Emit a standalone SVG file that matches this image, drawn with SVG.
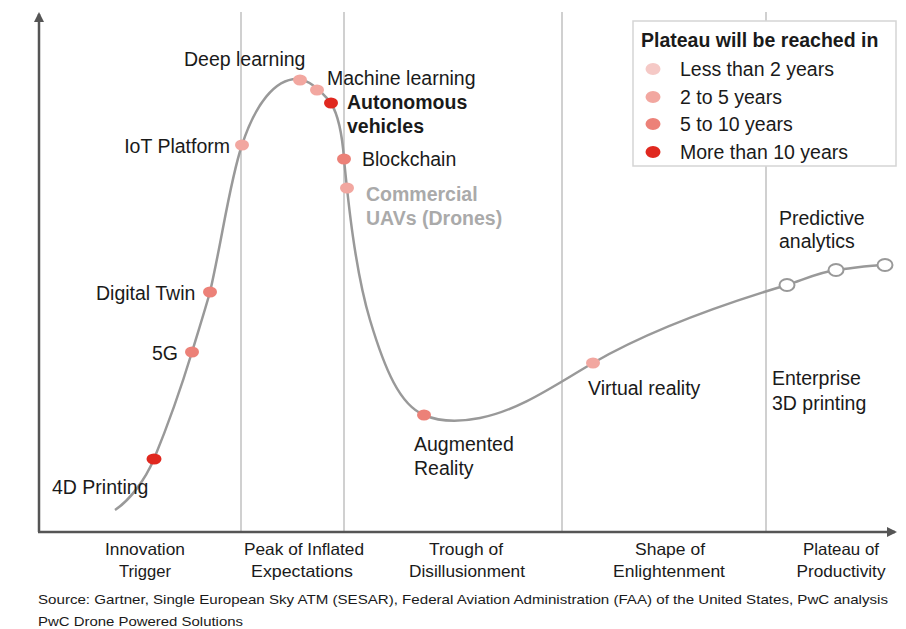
<svg xmlns="http://www.w3.org/2000/svg" width="906" height="629" viewBox="0 0 906 629">
<defs>
<style>
text{font-family:"Liberation Sans",Arial,sans-serif;fill:#1a1a1a;}
.lbl{font-size:19.5px;}
.b{font-weight:bold;}
.ax{font-family:"Liberation Sans Narrow","Liberation Sans",Arial,sans-serif;font-size:16.5px;text-anchor:middle;}
.src{font-family:"Liberation Sans Narrow","Liberation Sans",Arial,sans-serif;font-size:13px;}
.div{stroke:#d0d0d0;stroke-width:2;fill:none;}
.axis{stroke:#555;stroke-width:2.5;fill:none;}
.curve{stroke:#999;stroke-width:2.5;fill:none;}
.c1{fill:#f5c9c6;}
.c2{fill:#f2a7a0;}
.c3{fill:#ec8178;}
.c4{fill:#e0281f;}
.open{fill:#fff;stroke:#999;stroke-width:2;}
</style>
<marker id="arr" markerWidth="10" markerHeight="10" refX="8" refY="5" orient="auto" markerUnits="userSpaceOnUse">
<path d="M0,0 L10,5 L0,10 Z" fill="#555"/>
</marker>
</defs>
<rect width="906" height="629" fill="#fff"/>
<g id="dividers">
<line class="div" x1="241" y1="12" x2="241" y2="531"/>
<line class="div" x1="344" y1="12" x2="344" y2="531"/>
<line class="div" x1="562" y1="12" x2="562" y2="531"/>
<line class="div" x1="766" y1="12" x2="766" y2="531"/>
</g>
<g id="axes">
<line class="axis" x1="39" y1="532" x2="39" y2="14" marker-end="url(#arr)"/>
<line class="axis" x1="38" y1="532" x2="895" y2="532" marker-end="url(#arr)"/>
</g>
<g id="connectors">
<path class="curve" d="M115,510 C130,500 145,480 154,459 C170,420 185,375 192,352 C198,332 205,310 210,292 C222,240 230,180 242,145 C255,105 275,78 298,79 C310,80 322,92 331,103 C340,118 343,145 344,159 C348,200 355,270 370,320 C385,370 400,405 424,415 C440,422 460,422 480,418 C520,410 555,385 593,363 C650,330 720,305 787,285 C805,279 820,272 836,270 C855,268 870,265 885,265"/>
</g>
<g id="n-4d"><ellipse class="c4" cx="154" cy="459" rx="7.5" ry="5.5"/><text class="lbl" x="52" y="494">4D Printing</text></g>
<g id="n-5g"><ellipse class="c3" cx="192" cy="352" rx="7" ry="5.5"/><text class="lbl" x="152" y="360">5G</text></g>
<g id="n-dt"><ellipse class="c3" cx="210" cy="292" rx="7" ry="5.5"/><text class="lbl" x="96" y="300">Digital Twin</text></g>
<g id="n-iot"><ellipse class="c2" cx="242" cy="145" rx="7" ry="5.5"/><text class="lbl" x="230" y="153" text-anchor="end">IoT Platform</text></g>
<g id="n-dl"><ellipse class="c2" cx="300" cy="80" rx="7" ry="5.5"/><text class="lbl" x="184" y="66">Deep learning</text></g>
<g id="n-ml"><ellipse class="c2" cx="317" cy="90" rx="7" ry="5.5"/><text class="lbl" x="327" y="85">Machine learning</text></g>
<g id="n-av"><ellipse class="c4" cx="331" cy="103" rx="7" ry="5.5"/><text class="lbl b" x="347" y="109">Autonomous</text><text class="lbl b" x="347" y="133">vehicles</text></g>
<g id="n-bc"><ellipse class="c3" cx="344" cy="159" rx="7" ry="5.5"/><text class="lbl" x="362" y="166">Blockchain</text></g>
<g id="n-uav"><ellipse class="c2" cx="347" cy="188" rx="7" ry="5.5"/><text class="lbl b" x="366" y="201" style="fill:#aaa">Commercial</text><text class="lbl b" x="366" y="225" style="fill:#aaa">UAVs (Drones)</text></g>
<g id="n-ar"><ellipse class="c3" cx="424" cy="415" rx="7" ry="5.5"/><text class="lbl" x="414" y="451">Augmented</text><text class="lbl" x="414" y="475">Reality</text></g>
<g id="n-vr"><ellipse class="c2" cx="593" cy="363" rx="7" ry="5.5"/><text class="lbl" x="588" y="395">Virtual reality</text></g>
<g id="n-p1"><ellipse class="open" cx="787" cy="285" rx="7.5" ry="6"/></g>
<g id="n-p2"><ellipse class="open" cx="836" cy="270" rx="7.5" ry="6"/></g>
<g id="n-p3"><ellipse class="open" cx="885" cy="265" rx="7.5" ry="6"/></g>
<g id="n-pa"><text class="lbl" x="779" y="225">Predictive</text><text class="lbl" x="779" y="248">analytics</text></g>
<g id="n-e3d"><text class="lbl" x="772" y="385">Enterprise</text><text class="lbl" x="772" y="410">3D printing</text></g>
<g id="legend">
<rect x="633" y="21" width="263" height="145" fill="#fff" stroke="#d5d5d5" stroke-width="1.5"/>
<text class="lbl b" x="641" y="47">Plateau will be reached in</text>
<ellipse class="c1" cx="653" cy="69" rx="7.5" ry="6"/><text class="lbl" x="680" y="76">Less than 2 years</text>
<ellipse class="c2" cx="653" cy="97" rx="7.5" ry="6"/><text class="lbl" x="680" y="104">2 to 5 years</text>
<ellipse class="c3" cx="653" cy="124" rx="7.5" ry="6"/><text class="lbl" x="680" y="131">5 to 10 years</text>
<ellipse class="c4" cx="653" cy="152" rx="7.5" ry="6"/><text class="lbl" x="680" y="159">More than 10 years</text>
</g>
<g id="phases">
<text class="ax" x="145" y="555" textLength="80" lengthAdjust="spacingAndGlyphs">Innovation</text>
<text class="ax" x="145" y="577" textLength="52" lengthAdjust="spacingAndGlyphs">Trigger</text>
<text class="ax" x="304" y="555" textLength="120" lengthAdjust="spacingAndGlyphs">Peak of Inflated</text>
<text class="ax" x="302" y="577" textLength="102" lengthAdjust="spacingAndGlyphs">Expectations</text>
<text class="ax" x="466" y="555" textLength="74" lengthAdjust="spacingAndGlyphs">Trough of</text>
<text class="ax" x="467" y="577" textLength="116" lengthAdjust="spacingAndGlyphs">Disillusionment</text>
<text class="ax" x="670" y="555" textLength="70" lengthAdjust="spacingAndGlyphs">Shape of</text>
<text class="ax" x="669" y="577" textLength="112" lengthAdjust="spacingAndGlyphs">Enlightenment</text>
<text class="ax" x="841" y="555" textLength="76" lengthAdjust="spacingAndGlyphs">Plateau of</text>
<text class="ax" x="841" y="577" textLength="89" lengthAdjust="spacingAndGlyphs">Productivity</text>
</g>
<g id="source">
<text class="src" x="38" y="604" textLength="850" lengthAdjust="spacingAndGlyphs">Source: Gartner, Single European Sky ATM (SESAR), Federal Aviation Administration (FAA) of the United States, PwC analysis</text>
<text class="src" x="38" y="626" textLength="205" lengthAdjust="spacingAndGlyphs">PwC Drone Powered Solutions</text>
</g>
</svg>
